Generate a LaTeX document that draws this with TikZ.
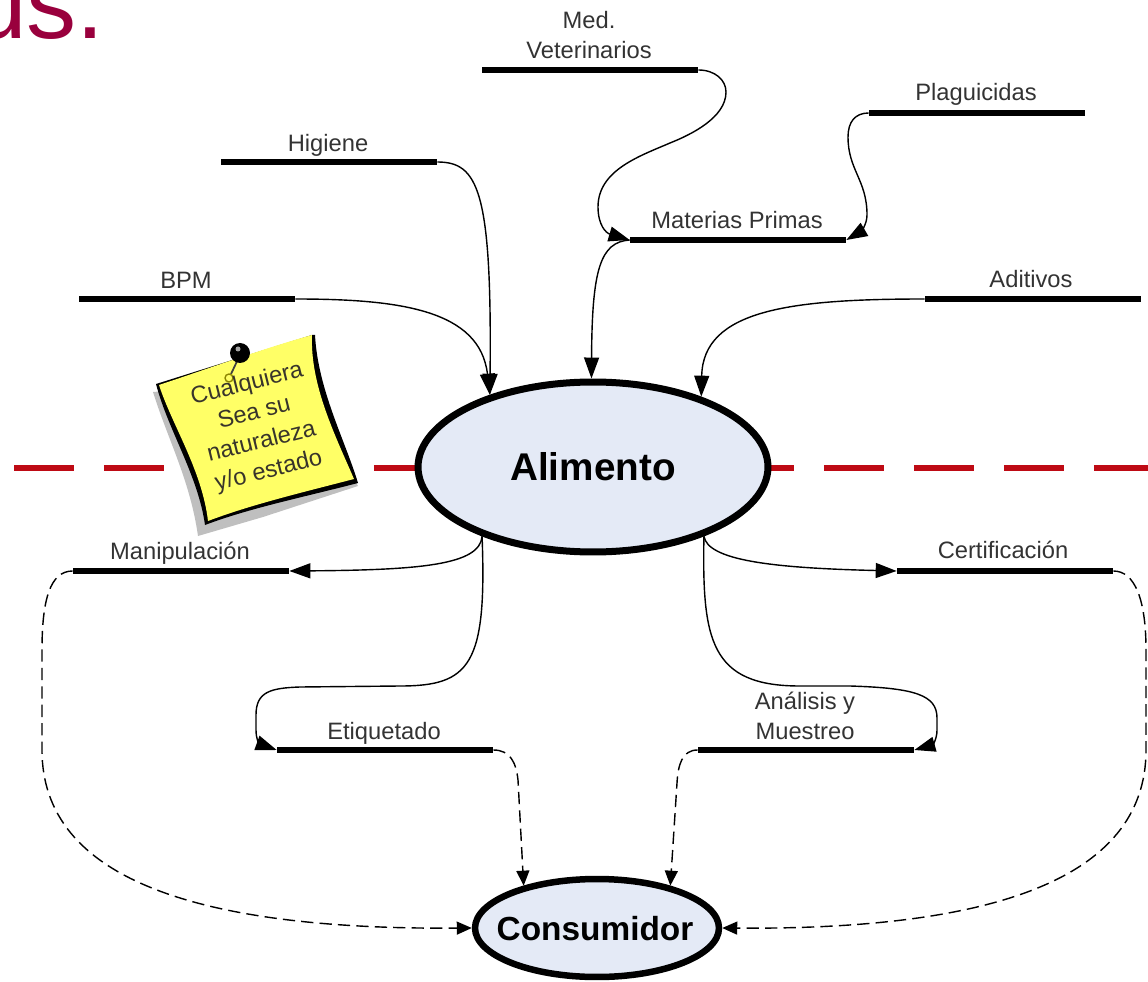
\documentclass[tikz,border=0pt]{standalone}
\usepackage{fontspec}
\setmainfont{Liberation Sans}
\usetikzlibrary{arrows.meta}
\usetikzlibrary{shapes.geometric}
\definecolor{titlered}{HTML}{99003D}
\definecolor{cutred}{HTML}{BE0A14}
\definecolor{nodeblue}{HTML}{E4EAF6}
\definecolor{noteyellow}{HTML}{FFFF66}
\definecolor{labelgray}{HTML}{333333}
\tikzset{
  barline/.style={fill=black,inner sep=0pt,minimum width=4.32cm,minimum height=0.13cm},
  barlabel/.style={text=labelgray,font=\fontsize{13.5}{17}\selectfont,align=center,inner sep=0pt},
  mainnode/.style={ellipse,draw=black,fill=nodeblue,inner sep=0pt},
  flowline/.style={-{Triangle[length=0.42cm,width=0.3cm]},line width=0.8pt,black},
  flowdash/.style={-{Triangle[length=0.3cm,width=0.26cm]},line width=0.8pt,black,dash pattern=on 7pt off 3.5pt},
}

\begin{document}
\begin{tikzpicture}[x=0.02cm,y=-0.02cm,line cap=butt, line join=round]
\useasboundingbox (0,0) rectangle (1148,982);

\node[anchor=base east,text=titlered,inner sep=0pt,font=\fontsize{57}{57}\selectfont] (titlefrag) at (105,39) {us.};

\coordinate (cutL) at (14,468);
\coordinate (cutR) at (1148,468);
\draw[cutred,line width=0.14cm,dash pattern=on 1.2cm off 0.6cm] (cutL) -- (cutR);

% bars
\node[barline] (medvet) at (590,70) {};
\node[barline] (plagui) at (977,113) {};
\node[barline] (higiene) at (329,162) {};
\node[barline] (materias) at (738,240) {};
\node[barline] (bpm) at (187,299) {};
\node[barline] (aditivos) at (1033,299) {};
\node[barline] (manipul) at (181,571) {};
\node[barline] (certif) at (1005,571) {};
\node[barline] (etiq) at (385,750) {};
\node[barline] (analisis) at (806,750) {};

\node[barlabel] (medvetL) at (589,35) {Med.\\Veterinarios};
\node[barlabel] (plaguiL) at (976,94) {Plaguicidas};
\node[barlabel] (higieneL) at (328,145) {Higiene};
\node[barlabel] (materiasL) at (737,220) {Materias Primas};
\node[barlabel] (bpmL) at (186,280) {BPM};
\node[barlabel] (aditivosL) at (1031,279) {Aditivos};
\node[barlabel] (manipulL) at (180,553) {Manipulación};
\node[barlabel] (certifL) at (1003,550) {Certificación};
\node[barlabel] (etiqL) at (384,733) {Etiquetado};
\node[barlabel] (analisisL) at (805,716) {Análisis y\\Muestreo};

\node[mainnode,line width=0.14cm,minimum width=7cm,minimum height=3.4cm] (alimento) at (593,467) {};
\node[inner sep=0pt,font=\bfseries\fontsize{22}{26}\selectfont] (alimentoT) at (alimento) {Alimento};
\node[mainnode,line width=0.13cm,minimum width=4.88cm,minimum height=1.96cm] (consum) at (597,928) {};
\node[inner sep=0pt,font=\bfseries\fontsize{19}{23}\selectfont] (consumT) at (595,929) {Consumidor};

% note
\fill[gray!50] (153,392) .. controls (168,440) and (190,480) .. (198,536) -- (263,517) -- (358,486) -- (300,380) -- cycle;
\fill[black] (156,384) .. controls (168,430) and (198,475) .. (205,525) .. controls (250,508) and (300,498) .. (358,483) .. controls (345,440) and (318,390) .. (315,335) -- (312,335) -- cycle;
\fill[noteyellow] (159,385) .. controls (172,425) and (202,470) .. (208,521) .. controls (250,505) and (300,493) .. (354,479) .. controls (335,435) and (310,385) .. (312,335) .. controls (265,348) and (210,368) .. (159,385) -- cycle;
\draw[black!75,line width=1pt] (240,355) -- (231,374);
\draw[olive,line width=0.8pt] (229,378) circle (4);
\fill[black] (240,353) circle (10);
\fill[gray!70] (238,349) circle (2.5);

\node[rotate=14,text=black!80!olive,align=center,inner sep=0pt,font=\fontsize{13.5}{17}\selectfont] (noteT) at (258,428) {Cualquiera\\Sea su\\naturaleza\\y/o estado};

% connectors
\draw[flowline] (higiene.east) .. controls (478,162) and (492,190) .. (alimento.145);
\draw[flowline] (bpm.east) .. controls (400,299) and (480,310) .. (alimento.145);
\draw[flowline] (materias.west) .. controls (600,242) and (592,270) .. (alimento.91);
\draw[flowline] (aditivos.west) .. controls (790,299) and (703,310) .. (alimento.33);
\draw[flowline] (medvet.east) .. controls (715,70) and (726,80) .. (726,92) .. controls (726,118) and (690,135) .. (670,143) .. controls (640,156) and (598,170) .. (598,207) .. controls (598,225) and (606,233) .. (materias.west);
\draw[flowline] (plagui.west) .. controls (855,113) and (848,122) .. (848,137) .. controls (848,170) and (867,180) .. (867,215) .. controls (867,225) and (860,232) .. (materias.east);

\draw[flowline] (alimento.212) .. controls (480,565) and (420,570) .. (manipul.east);
\draw[flowline] (alimento.212) .. controls (487,665) and (470,686) .. (400,686) -- (300,687) .. controls (270,688) and (256,692) .. (256,715) -- (256,730) .. controls (256,740) and (260,744) .. (etiq.west);
\draw[flowline] (alimento.328) .. controls (708,560) and (770,568) .. (certif.west);
\draw[flowline] (alimento.328) .. controls (702,640) and (710,686) .. (800,686) -- (850,686) .. controls (915,688) and (937,695) .. (937,718) -- (937,730) .. controls (937,740) and (932,745) .. (analisis.east);

\draw[flowdash] (manipul.west) .. controls (50,571) and (42,600) .. (42,650) -- (42,750) .. controls (42,880) and (200,930) .. (consum.west);
\draw[flowdash] (certif.east) .. controls (1135,571) and (1146,600) .. (1146,650) -- (1146,750) .. controls (1146,880) and (990,930) .. (consum.east);
\draw[flowdash] (etiq.east) .. controls (510,750) and (516,762) .. (518,780) -- (consum.150);
\draw[flowdash] (analisis.west) .. controls (682,750) and (678,765) .. (677,783) -- (consum.30);

\end{tikzpicture}
\end{document}
